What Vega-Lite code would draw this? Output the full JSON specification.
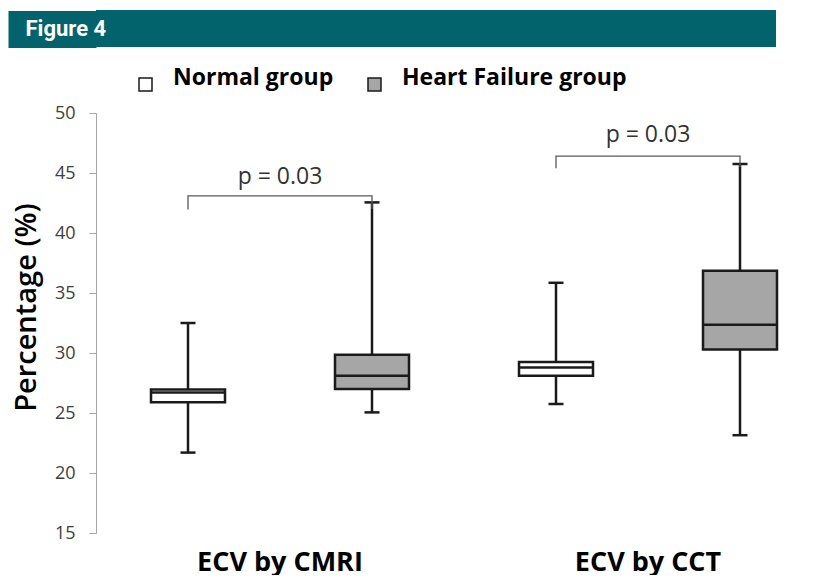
{
  "$schema": "https://vega.github.io/schema/vega-lite/v6.json",
  "padding": {"left": -11, "top": 10, "right": 0, "bottom": 0},
  "background": "white",
  "spacing": 25,
  "resolve": {"legend": {"fill": "independent"}},
  "config": {"view": {"stroke": null}, "font": "Open Sans"},
  "datasets": {
    "boxes": [
      {"method": "ECV by CMRI", "group": "Normal group", "min": 21.7, "q1": 25.9, "median": 26.7, "q3": 26.95, "max": 32.5},
      {"method": "ECV by CMRI", "group": "Heart Failure group", "min": 25.05, "q1": 27.0, "median": 28.1, "q3": 29.85, "max": 42.55},
      {"method": "ECV by CCT", "group": "Normal group", "min": 25.75, "q1": 28.1, "median": 28.8, "q3": 29.25, "max": 35.85},
      {"method": "ECV by CCT", "group": "Heart Failure group", "min": 23.15, "q1": 30.3, "median": 32.35, "q3": 36.85, "max": 45.75}
    ],
    "brackets": [
      {"method": "ECV by CMRI", "group": "Normal group", "y": 41.95, "ord": 1},
      {"method": "ECV by CMRI", "group": "Normal group", "y": 43.1, "ord": 2},
      {"method": "ECV by CMRI", "group": "Heart Failure group", "y": 43.1, "ord": 3},
      {"method": "ECV by CMRI", "group": "Heart Failure group", "y": 42.0, "ord": 4},
      {"method": "ECV by CCT", "group": "Normal group", "y": 45.4, "ord": 1},
      {"method": "ECV by CCT", "group": "Normal group", "y": 46.4, "ord": 2},
      {"method": "ECV by CCT", "group": "Heart Failure group", "y": 46.4, "ord": 3},
      {"method": "ECV by CCT", "group": "Heart Failure group", "y": 45.5, "ord": 4}
    ],
    "pvals": [
      {"method": "ECV by CMRI", "y": 44.1, "label": "p = 0.03"},
      {"method": "ECV by CCT", "y": 47.55, "label": "p = 0.03"}
    ],
    "banner": [{"t": "Figure 4"}]
  },
  "vconcat": [
    {
      "width": 680,
      "height": 37,
      "data": {"name": "banner"},
      "view": {"fill": "#03636D", "stroke": null},
      "mark": {"type": "text", "opacity": 0},
      "encoding": {
        "y": {"field": "t", "type": "nominal", "title": null, "scale": {"paddingInner": 0, "paddingOuter": 0},
          "axis": {"title": null, "domain": false, "ticks": true, "tickSize": 88, "tickWidth": 37, "tickColor": "#03636D", "tickCap": "butt", "labelAlign": "left", "labelBaseline": "middle", "labelPadding": -17, "labelFont": "Roboto", "labelFontSize": 22, "labelFontWeight": "bold", "labelColor": "#FFFFFF"}},
        "text": {"value": ""}
      }
    },
    {
      "width": 736,
      "height": 420,
      "encoding": {
        "x": {"field": "method", "type": "nominal", "sort": ["ECV by CMRI", "ECV by CCT"],
          "scale": {"domain": ["ECV by CMRI", "ECV by CCT"], "paddingInner": 0, "paddingOuter": 0},
          "axis": {"title": null, "domain": false, "ticks": false, "labelAngle": 0, "labelFont": "Open Sans", "labelFontSize": 27, "labelFontWeight": "bold", "labelColor": "#000000", "labelPadding": 16}}
      },
      "layer": [
        {
          "data": {"name": "boxes"},
          "mark": {"type": "rule", "color": "#1a1a1a", "strokeWidth": 2.5},
          "encoding": {
            "xOffset": {"field": "group", "type": "nominal", "scale": {"domain": ["Normal group", "Heart Failure group"], "paddingInner": 0, "paddingOuter": 0}},
            "y": {"field": "min", "type": "quantitative", "scale": {"domain": [15, 50], "nice": false, "zero": false},
              "axis": {"title": "Percentage (%)", "values": [15, 20, 25, 30, 35, 40, 45, 50], "grid": false, "domainColor": "#A6A6A6", "tickColor": "#A6A6A6", "tickSize": 7, "labelPadding": 14, "labelFont": "Open Sans", "labelFontSize": 18, "labelColor": "#404040", "titleFont": "Open Sans", "titleFontSize": 29, "titleFontWeight": 600, "titleColor": "#000000", "titleX": -70, "titleY": 194, "titleAngle": -90, "titleBaseline": "middle", "titleAlign": "center"}},
            "y2": {"field": "max"}
          }
        },
        {
          "data": {"name": "boxes"},
          "mark": {"type": "bar", "width": 74, "stroke": "#1a1a1a", "strokeWidth": 2.5},
          "encoding": {
            "xOffset": {"field": "group", "type": "nominal"},
            "y": {"field": "q1", "type": "quantitative"},
            "y2": {"field": "q3"},
            "fill": {"field": "group", "type": "nominal", "scale": {"domain": ["Normal group", "Heart Failure group"], "range": ["#FFFFFF", "#A6A6A6"]},
              "legend": {"title": null, "orient": "none", "legendX": 38, "legendY": -40, "direction": "horizontal", "symbolType": "square", "symbolSize": 169, "symbolStrokeColor": "#1a1a1a", "symbolStrokeWidth": 1.5, "labelFont": "Open Sans", "labelFontSize": 23, "labelFontWeight": "bold", "labelColor": "#000000", "labelOffset": 16, "columnPadding": 29, "labelBaseline": "alphabetic", "labelLimit": 400}}
          }
        },
        {
          "data": {"name": "boxes"},
          "mark": {"type": "tick", "size": 74, "thickness": 2.5, "color": "#1a1a1a", "opacity": 1},
          "encoding": {
            "xOffset": {"field": "group", "type": "nominal"},
            "y": {"field": "median", "type": "quantitative"}
          }
        },
        {
          "data": {"name": "boxes"},
          "mark": {"type": "tick", "size": 15, "thickness": 2.5, "color": "#1a1a1a", "opacity": 1},
          "encoding": {
            "xOffset": {"field": "group", "type": "nominal"},
            "y": {"field": "min", "type": "quantitative"}
          }
        },
        {
          "data": {"name": "boxes"},
          "mark": {"type": "tick", "size": 15, "thickness": 2.5, "color": "#1a1a1a", "opacity": 1},
          "encoding": {
            "xOffset": {"field": "group", "type": "nominal"},
            "y": {"field": "max", "type": "quantitative"}
          }
        },
        {
          "data": {"name": "brackets"},
          "mark": {"type": "line", "color": "#595959", "strokeWidth": 1.3},
          "encoding": {
            "xOffset": {"field": "group", "type": "nominal"},
            "y": {"field": "y", "type": "quantitative"},
            "order": {"field": "ord", "type": "quantitative"},
            "detail": {"field": "method", "type": "nominal"}
          }
        },
        {
          "data": {"name": "pvals"},
          "mark": {"type": "text", "baseline": "alphabetic", "align": "center", "font": "Open Sans", "fontSize": 23, "color": "#333333"},
          "encoding": {
            "y": {"field": "y", "type": "quantitative"},
            "text": {"field": "label", "type": "nominal"}
          }
        }
      ]
    }
  ]
}
